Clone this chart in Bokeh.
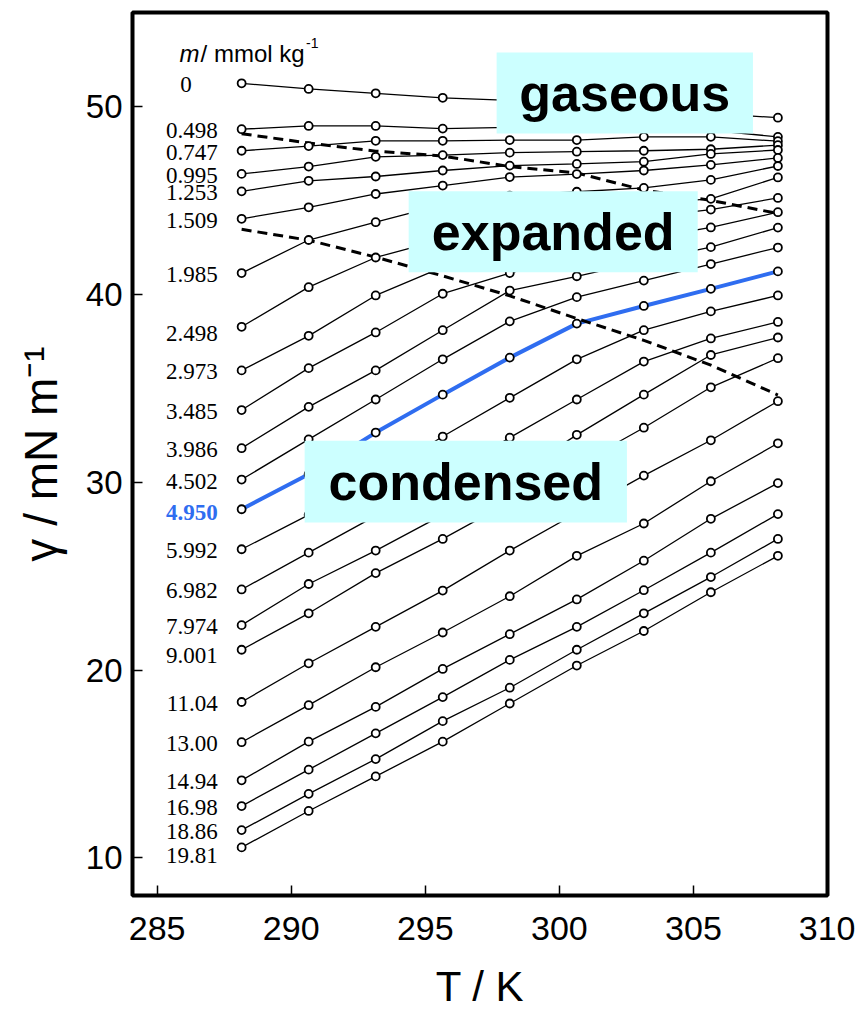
from bokeh.plotting import figure
from bokeh.models import Label, BoxAnnotation, FixedTicker, ColumnDataSource, Range1d
from bokeh.core.properties import value
from bokeh.embed import file_html
from bokeh.resources import INLINE

# ---------------- data ----------------
T = [288.15, 290.65, 293.15, 295.65, 298.15, 300.65, 303.15, 305.65, 308.15]

m_labels = ["0", "0.498", "0.747", "0.995", "1.253", "1.509", "1.985", "2.498",
            "2.973", "3.485", "3.986", "4.502", "4.950", "5.992", "6.982", "7.974",
            "9.001", "11.04", "13.00", "14.94", "16.98", "18.86", "19.81"]

g_0 = [51.23, 50.93, 50.70, 50.46, 50.32, 50.11, 49.89, 49.63, 49.40]
g_0498 = [48.79, 48.96, 48.96, 48.82, 48.89, 48.89, 48.89, 48.73, 48.38]
g_0747 = [47.64, 47.89, 48.17, 48.17, 48.21, 48.21, 48.38, 48.38, 48.15]
g_0995 = [46.41, 46.80, 47.32, 47.41, 47.54, 47.59, 47.64, 47.72, 47.94]
g_1253 = [45.48, 46.04, 46.27, 46.59, 46.85, 46.94, 47.06, 47.47, 47.68]
g_1509 = [44.02, 44.63, 45.34, 45.79, 46.24, 46.40, 46.59, 46.89, 47.26]
g_1985 = [41.13, 42.89, 43.84, 44.78, 45.25, 45.46, 45.66, 46.09, 46.83]
g_2498 = [38.27, 40.38, 41.96, 42.93, 43.72, 44.41, 44.83, 45.08, 46.22]
g_2973 = [35.95, 37.79, 39.94, 41.45, 42.67, 43.56, 44.09, 44.51, 45.13]
g_3485 = [33.84, 36.07, 37.97, 40.03, 41.13, 42.08, 42.93, 43.56, 44.37]
g_3986 = [31.81, 34.01, 35.95, 38.09, 40.20, 40.96, 41.77, 42.51, 43.55]
g_4502 = [30.14, 32.28, 34.40, 36.54, 38.56, 39.85, 40.73, 41.61, 42.49]
g_4950 = [28.56, 30.42, 32.64, 34.66, 36.63, 38.44, 39.38, 40.29, 41.22]
g_5992 = [26.43, 28.26, 30.21, 32.43, 34.49, 36.54, 38.09, 39.09, 39.94]
g_6982 = [24.29, 26.25, 28.21, 30.16, 32.37, 34.40, 36.42, 37.65, 38.53]
g_7974 = [22.39, 24.58, 26.36, 28.26, 30.21, 32.52, 34.66, 36.77, 37.70]
g_9001 = [21.08, 23.02, 25.16, 26.98, 28.94, 30.90, 32.90, 35.05, 36.60]
g_1104 = [18.30, 20.36, 22.30, 24.23, 26.36, 28.36, 30.35, 32.23, 34.31]
g_1300 = [16.16, 18.13, 20.15, 22.00, 23.93, 26.08, 27.80, 30.05, 32.07]
g_1494 = [14.13, 16.19, 18.04, 20.06, 21.91, 23.76, 25.82, 28.05, 29.95]
g_1698 = [12.76, 14.70, 16.63, 18.56, 20.54, 22.30, 24.25, 26.25, 28.30]
g_1886 = [11.48, 13.41, 15.26, 17.28, 19.06, 21.08, 23.02, 24.95, 26.98]
g_1981 = [10.56, 12.50, 14.34, 16.19, 18.22, 20.24, 22.08, 24.14, 26.08]

# phase boundaries (dashed)
bound_gas_exp = [48.55, 48.05, 47.62, 47.36, 46.80, 46.46, 45.55, 45.00, 44.30]
bound_exp_cond = [43.46, 42.88, 41.98, 40.98, 39.92, 38.71, 37.55, 36.23, 34.64]

series = [g_0, g_0498, g_0747, g_0995, g_1253, g_1509, g_1985, g_2498, g_2973,
          g_3485, g_3986, g_4502, g_4950, g_5992, g_6982, g_7974, g_9001,
          g_1104, g_1300, g_1494, g_1698, g_1886, g_1981]
HIGHLIGHT = "4.950"
BLUE = "#2F6DF0"

# ---------------- figure ----------------
p = figure(width=855, height=1012, x_range=Range1d(284.08, 310.0), y_range=Range1d(8, 55),
           output_backend="svg", toolbar_location=None,
           min_border_left=132, min_border_right=28, min_border_top=12, min_border_bottom=110)
p.background_fill_color = "white"
p.border_fill_color = "white"
p.outline_line_color = "black"
p.outline_line_width = 4
p.xgrid.visible = False
p.ygrid.visible = False

for ax in (p.xaxis[0], p.yaxis[0]):
    ax.axis_line_color = None
    ax.major_tick_in = 10
    ax.major_tick_out = 0
    ax.major_tick_line_width = 1.5
    ax.major_tick_line_color = "black"
    ax.minor_tick_line_color = None
    ax.major_label_text_font = "Liberation Sans"
    ax.major_label_text_color = "black"
    ax.axis_label_text_font = "Liberation Sans"
    ax.axis_label_text_font_style = "normal"
    ax.axis_label_text_color = "black"

p.xaxis.ticker = FixedTicker(ticks=[285, 290, 295, 300, 305, 310])
p.yaxis.ticker = FixedTicker(ticks=[10, 20, 30, 40, 50])
p.xaxis.major_label_text_font_size = "34px"
p.yaxis.major_label_text_font_size = "33px"
p.xaxis.major_label_standoff = 21
p.yaxis.major_label_standoff = 10
p.xaxis.axis_label = "T / K"
p.yaxis.axis_label = "\u03b3 / mN m\u207b\u00b9"
p.xaxis.axis_label_text_font_size = "42px"
p.yaxis.axis_label_text_font_size = "46px"
p.xaxis.axis_label_standoff = 20
p.yaxis.axis_label_standoff = 16

# series lines
for lab, g in zip(m_labels, series):
    if lab == HIGHLIGHT:
        p.line(T, g, line_color=BLUE, line_width=4)
    else:
        p.line(T, g, line_color="black", line_width=1.3)

# phase boundaries
p.line(T, bound_gas_exp, line_color="black", line_width=3, line_dash="10 6")
p.line(T, bound_exp_cond, line_color="black", line_width=3, line_dash="10 6")

# markers
for g in series:
    p.scatter(T, g, marker="circle", size=8, fill_color="white",
              line_color="black", line_width=1.8)

# molality labels
PX = 18.95  # px per mN/m for small label nudges
nudge = {"2.498": 7, "9.001": 6, "19.81": 8}
lx, ly, lt, lo = [], [], [], []
for lab, g in zip(m_labels, series):
    if lab == HIGHLIGHT:
        continue
    lx.append(T[0])
    ly.append(g[0] - (nudge.get(lab, 1.5)) / PX)
    lt.append(lab)
    lo.append(-50 if lab == "0" else -24)
src = ColumnDataSource(dict(x=lx, y=ly, text=lt, xo=lo))
p.text(x="x", y="y", text="text", x_offset="xo", source=src, text_align="right",
       text_baseline="middle", text_font=value("Liberation Serif"),
       text_font_size="23px", text_color="black")
hl = series[m_labels.index(HIGHLIGHT)]
p.text(x=[T[0]], y=[hl[0] - 3 / PX], text=[HIGHLIGHT], x_offset=-24, text_align="right",
       text_baseline="middle", text_font=value("Liberation Serif"),
       text_font_size="23px", text_font_style="bold", text_color=BLUE)

# heading  m / mmol kg-1
p.add_layout(Label(x=285.83, y=52.80, text="m", text_font="Liberation Sans",
                   text_font_style="italic", text_font_size="24px",
                   text_baseline="alphabetic", text_color="black"))
p.add_layout(Label(x=286.62, y=52.80, text="/ mmol kg", text_font="Liberation Sans",
                   text_font_size="24px", text_baseline="alphabetic", text_color="black"))
p.add_layout(Label(x=290.55, y=53.40, text="-1", text_font="Liberation Sans",
                   text_font_size="14px", text_baseline="alphabetic", text_color="black"))

# phase boxes
CYAN = "#CCFFFF"
boxes = [
    ("gaseous", 297.66, 307.22, 52.87, 48.56),
    ("expanded", 294.38, 305.16, 45.48, 41.17),
    ("condensed", 290.50, 302.52, 32.20, 27.85),
]
for text, l, r, t, b in boxes:
    p.add_layout(BoxAnnotation(left=l, right=r, top=t, bottom=b, fill_color=CYAN,
                               fill_alpha=1.0, line_color=None))
for text, l, r, t, b in boxes:
    p.add_layout(Label(x=(l + r) / 2, y=(t + b) / 2, text=text, text_align="center",
                       text_baseline="middle", text_font="Liberation Sans",
                       text_font_style="bold", text_font_size="52px", text_color="black"))

open("out.html", "w").write(file_html(p, INLINE))
